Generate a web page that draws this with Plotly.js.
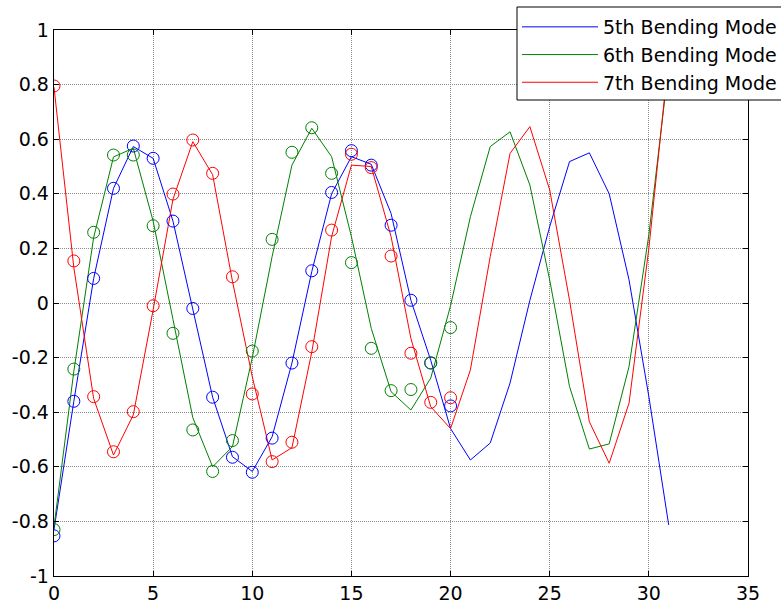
<!DOCTYPE html>
<html>
<head>
<meta charset="utf-8">
<script src="https://cdn.plot.ly/plotly-3.0.1.min.js"></script>
<style>html,body{margin:0;padding:0;background:#fff;}#chart{width:781px;height:606px;}</style>
</head>
<body>
<div id="chart"></div>
<script>
// Sample index (lines)
const xLine = [0,1,2,3,4,5,6,7,8,9,10,11,12,13,14,15,16,17,18,19,20,21,22,23,24,25,26,27,28,29,30,31];
// Sample index (circles)
const xMark = [0,1,2,3,4,5,6,7,8,9,10,11,12,13,14,15,16,17,18,19,20];

const seriesNames = ["5th Bending Mode", "6th Bending Mode", "7th Bending Mode"];

const mode5Line = [-0.83,-0.36,0.09,0.42,0.573,0.53,0.30,-0.02,-0.345,-0.563,-0.617,-0.49,-0.22,0.115,0.40,0.536,0.508,0.328,0.01,-0.21,-0.46,-0.575,-0.513,-0.293,0.01,0.28,0.518,0.55,0.40,0.085,-0.343,-0.813];
const mode6Line = [-0.82,-0.25,0.24,0.535,0.567,0.30,-0.06,-0.42,-0.60,-0.526,-0.20,0.17,0.505,0.64,0.536,0.243,-0.093,-0.325,-0.392,-0.275,-0.01,0.316,0.573,0.627,0.432,0.084,-0.306,-0.535,-0.516,-0.233,0.25,0.87];
const mode7Line = [0.79,0.13,-0.35,-0.557,-0.41,-0.025,0.38,0.591,0.47,0.08,-0.27,-0.575,-0.53,-0.18,0.243,0.505,0.50,0.243,-0.13,-0.38,-0.46,-0.245,0.17,0.548,0.646,0.414,0.01,-0.435,-0.587,-0.367,0.20,0.90];

const mode5Mark = [-0.853,-0.36,0.09,0.42,0.575,0.53,0.30,-0.02,-0.345,-0.565,-0.62,-0.495,-0.22,0.118,0.405,0.558,0.505,0.285,0.01,-0.22,-0.377];
const mode6Mark = [-0.83,-0.242,0.259,0.542,0.542,0.283,-0.111,-0.465,-0.617,-0.504,-0.176,0.233,0.552,0.642,0.475,0.148,-0.166,-0.321,-0.317,-0.219,-0.09];
const mode7Mark = [0.795,0.154,-0.343,-0.545,-0.398,-0.01,0.399,0.597,0.475,0.096,-0.333,-0.581,-0.51,-0.16,0.267,0.545,0.496,0.172,-0.184,-0.364,-0.347];

const xTickVals = [0,5,10,15,20,25,30,35];
const xTickText = ["0","5","10","15","20","25","30","35"];
const yTickVals = [-1,-0.8,-0.6,-0.4,-0.2,0,0.2,0.4,0.6,0.8,1];
const yTickText = ["-1","-0.8","-0.6","-0.4","-0.2","0","0.2","0.4","0.6","0.8","1"];

const colors = ["#0000ff", "#008000", "#ff0000"];
const lineData = [mode5Line, mode6Line, mode7Line];
const markData = [mode5Mark, mode6Mark, mode7Mark];

const traces = [];
for (let i = 0; i < 3; i++) {
  traces.push({
    x: xLine, y: lineData[i], type: "scatter", mode: "lines",
    name: seriesNames[i], line: {color: colors[i], width: 1}
  });
}
for (let i = 0; i < 3; i++) {
  traces.push({
    x: xMark, y: markData[i], type: "scatter", mode: "markers",
    showlegend: false, hoverinfo: "skip",
    marker: {symbol: "circle-open", size: 12, color: colors[i], line: {width: 1, color: colors[i]}}
  });
}

const fam = "DejaVu Sans, Liberation Sans, Arial, sans-serif";
const font = {family: fam, size: 19, color: "#000"};
const axisCommon = {
  showline: true, linecolor: "#000", linewidth: 1.3, mirror: "ticks",
  ticks: "inside", ticklen: 5, tickwidth: 1, tickcolor: "#000",
  showgrid: true, gridcolor: "#8c8c8c", griddash: "1px,1px", gridwidth: 1,
  zeroline: false, tickfont: font, tickmode: "array"
};

// legend frame (pixel-derived paper coordinates)
const plotL = 54, plotW = 694, plotB = 576, plotH = 546;
const px = v => (v - plotL) / plotW;
const py = v => (plotB - v) / plotH;

const layout = {
  width: 781, height: 606,
  margin: {l: 54, r: 33, t: 30, b: 30, autoexpand: false},
  paper_bgcolor: "#fff", plot_bgcolor: "#fff",
  font: font,
  showlegend: true,
  xaxis: Object.assign({}, axisCommon, {range: [0, 35], tickvals: xTickVals, ticktext: xTickText}),
  yaxis: Object.assign({}, axisCommon, {range: [-1, 1], tickvals: yTickVals, ticktext: yTickText}),
  shapes: [{
    type: "rect", xref: "paper", yref: "paper", layer: "above",
    x0: px(517), x1: px(800), y0: py(100), y1: py(7),
    fillcolor: "#fff", line: {color: "#000", width: 1}
  }],
  legend: {
    x: px(517), y: py(8), xanchor: "left", yanchor: "top",
    bgcolor: "rgba(0,0,0,0)", borderwidth: 0,
    font: {family: fam, size: 19, color: "#000"},
    itemwidth: 76, tracegroupgap: 0
  }
};

Plotly.newPlot("chart", traces, layout, {staticPlot: true});
</script>
</body>
</html>
